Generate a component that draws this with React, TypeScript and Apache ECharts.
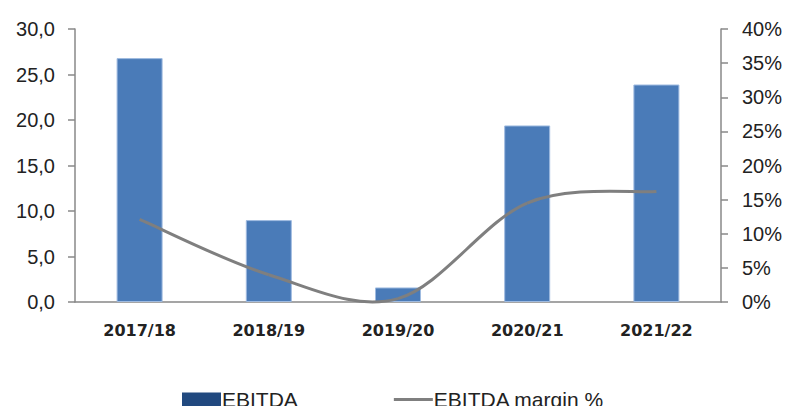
import React, { useEffect, useRef } from "react";
import * as echarts from "echarts";

const categories = ["2017/18", "2018/19", "2019/20", "2020/21", "2021/22"];
const ebitda = [26.8, 9.0, 1.6, 19.4, 23.9];
const marginPct = [12.1, 4.0, 0.5, 14.5, 16.2];
const seriesNames = ["EBITDA", "EBITDA margin %"];

export default function App() {
  const ref = useRef<HTMLDivElement>(null);
  useEffect(() => {
    if (!ref.current) return;
    const chart = echarts.init(ref.current, null, { renderer: "svg" });
    const axisGray = "#888888";
    const lineGray = "#7f7f7f";
    const labelFont = { fontFamily: "'Liberation Sans', Arial, sans-serif", fontSize: 20, color: "#222222" };
    const n = marginPct.length;
    const clampIdx = (j: number) => Math.max(0, Math.min(n - 1, j));
    chart.setOption({
      animation: false,
      backgroundColor: "#ffffff",
      grid: { left: 75, right: 70, top: 29, bottom: 104, containLabel: false },
      legend: {
        left: 182,
        top: 389,
        padding: 0,
        itemWidth: 39,
        itemHeight: 14,
        itemGap: 96,
        textStyle: { fontFamily: "'Liberation Sans', Arial, sans-serif", fontSize: 21, color: "#222222", padding: [0, 0, 0, -4], lineHeight: 21 },
        data: [
          { name: seriesNames[0], icon: "rect", itemStyle: { color: "#21497f", borderWidth: 0 } },
          { name: seriesNames[1], icon: "path://M0,0H40V3H0Z", itemStyle: { color: lineGray, borderWidth: 0 } },
        ],
      },
      xAxis: {
        type: "category",
        data: categories,
        axisLine: { lineStyle: { color: axisGray, width: 1.5 } },
        axisTick: { length: 9, lineStyle: { color: axisGray, width: 1.5 } },
        axisLabel: { margin: 20, fontFamily: "'DejaVu Sans', Verdana, sans-serif", fontWeight: "bold", fontSize: 16, color: "#222222" },
      },
      yAxis: [
        {
          type: "value",
          min: 0,
          max: 30,
          interval: 5,
          splitLine: { show: false },
          axisLine: { show: true, lineStyle: { color: axisGray, width: 1.5 } },
          axisTick: { show: true, length: 7, lineStyle: { color: axisGray, width: 1.5 } },
          axisLabel: { margin: 20, ...labelFont, formatter: (v: number) => v.toFixed(1).replace(".", ",") },
        },
        {
          type: "value",
          min: 0,
          max: 40,
          interval: 5,
          position: "right",
          splitLine: { show: false },
          axisLine: { show: true, lineStyle: { color: axisGray, width: 1.5 } },
          axisTick: { show: true, length: 7, lineStyle: { color: axisGray, width: 1.5 } },
          axisLabel: { margin: 21, ...labelFont, formatter: (v: number) => v + "%" },
        },
      ],
      series: [
        {
          name: seriesNames[0],
          type: "bar",
          data: ebitda,
          barWidth: 46,
          itemStyle: { color: "#4a7bb8", borderColor: "#9fbbe0", borderWidth: 1 },
        },
        {
          name: seriesNames[1],
          type: "custom",
          yAxisIndex: 1,
          clip: false,
          z: 5,
          itemStyle: { color: lineGray },
          data: marginPct.map((v, i) => [i, v]),
          encode: { x: 0, y: 1 },
          renderItem: (params: any, api: any) => {
            const i = params.dataIndex;
            if (i >= n - 1) return null;
            const P = (j: number) => {
              const k = clampIdx(j);
              return api.coord([k, marginPct[k]]);
            };
            const a = P(i - 1);
            const b = P(i);
            const c = P(i + 1);
            const d = P(i + 2);
            return {
              type: "bezierCurve",
              shape: {
                x1: b[0],
                y1: b[1],
                x2: c[0],
                y2: c[1],
                cpx1: b[0] + (c[0] - a[0]) / 6,
                cpy1: b[1] + (c[1] - a[1]) / 6,
                cpx2: c[0] - (d[0] - b[0]) / 6,
                cpy2: c[1] - (d[1] - b[1]) / 6,
              },
              style: { stroke: lineGray, lineWidth: 3, fill: "none" },
            };
          },
        },
      ],
    });
    return () => chart.dispose();
  }, []);
  return <div ref={ref} style={{ position: "absolute", left: 0, top: 0, width: 791, height: 406 }} />;
}
